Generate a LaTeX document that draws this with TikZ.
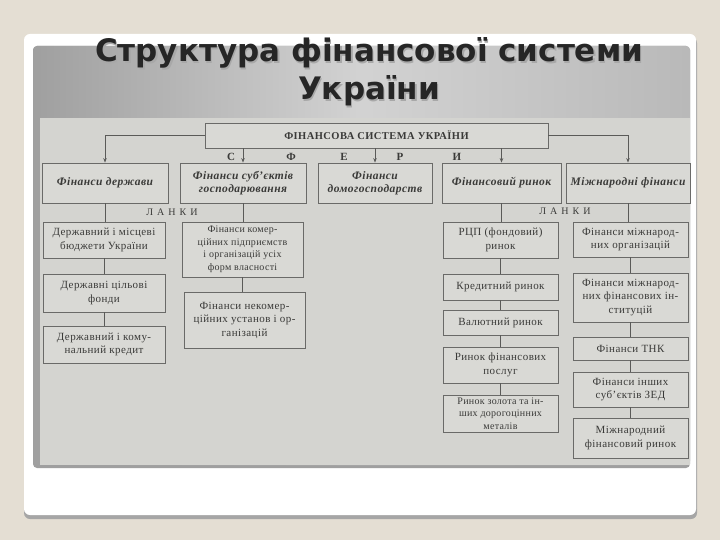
\documentclass[tikz,border=0pt]{standalone}
\usepackage{fontspec}
\setmainfont{Liberation Serif}
\newfontfamily\titlefont{DejaVu Sans}
\usetikzlibrary{arrows.meta}
\definecolor{bggray}{HTML}{E4DED3}
\definecolor{scangray}{HTML}{D4D4D0}
\definecolor{boxfill}{HTML}{D9D9D5}
\definecolor{boxedge}{HTML}{6A6A68}
\definecolor{linegray}{HTML}{5A5A58}
\definecolor{ink}{HTML}{3A3A38}
\definecolor{titleink}{HTML}{262626}

\begin{document}
\begin{tikzpicture}[x=1pt,y=-1pt,>={Stealth[length=4.5pt,width=3.5pt]},
  line/.style={draw=linegray,line width=0.8pt},
  sysbox/.style={draw=boxedge,fill=boxfill,line width=0.8pt,text=ink,
    font=\fontsize{10.5}{12}\selectfont\bfseries\addfontfeature{LetterSpace=4},inner sep=1pt},
  headbox/.style={draw=boxedge,fill=boxfill,line width=0.8pt,text=ink,align=center,
    font=\fontsize{11.5}{13.5}\selectfont\bfseries\itshape\addfontfeature{LetterSpace=4},inner sep=1pt},
  linkbox/.style={draw=boxedge,fill=boxfill,line width=0.8pt,text=ink,align=center,
    font=\fontsize{11}{13.5}\selectfont\addfontfeature{LetterSpace=4},inner sep=1pt},
  densebox/.style={linkbox,font=\fontsize{10}{12.5}\selectfont\addfontfeature{LetterSpace=3}},
  letter/.style={text=ink,font=\fontsize{11}{11}\selectfont\bfseries},
  lanky/.style={text=ink,font=\fontsize{10}{10}\selectfont\addfontfeature{LetterSpace=40}}]
  % slide
  \fill[bggray] (0,0) rectangle (720,540);
  \fill[gray!70,rounded corners=6pt] (24,37) rectangle (697,519);
  \fill[white,rounded corners=6pt] (24,34) rectangle (696,515);
  \fill[gray!75,rounded corners=4pt] (33,46) rectangle (690,468);
  \shade[left color=gray!75,right color=gray!55,middle color=gray!35,rounded corners=4pt]
    (33,46) rectangle (690,465);
  \fill[scangray] (40,118) rectangle (690,465);
  % title
  \node[titleink!40,font=\titlefont\fontsize{31}{38}\selectfont\bfseries,align=center]
    at (370.5,73.5) {Структура фінансової системи\\України};
  \node (title) [titleink,font=\titlefont\fontsize{31}{38}\selectfont\bfseries,align=center]
    at (369,72) {Структура фінансової системи\\України};

  % top level
  \node (sys) [sysbox,minimum width=343pt,minimum height=25pt] at (376.5,135.5)
    {ФІНАНСОВА СИСТЕМА УКРАЇНИ};
  \node (fd) [headbox,minimum width=126pt,minimum height=40pt] at (105,183) {Фінанси держави};
  \node (fs) [headbox,minimum width=126pt,minimum height=40pt] at (243,183)
    {Фінанси суб'єктів\\господарювання};
  \node (fh) [headbox,minimum width=114pt,minimum height=40pt] at (375,183)
    {Фінанси\\домогосподарств};
  \node (fr) [headbox,minimum width=119pt,minimum height=40pt] at (501.5,183) {Фінансовий ринок};
  \node (fm) [headbox,minimum width=124pt,minimum height=40pt] at (628,183) {Міжнародні фінанси};

  \draw[line,->] (sys.west) -| (fd.north);
  \draw[line,->] (sys.east) -| (fm.north);
  \foreach \n in {fs,fh,fr}
    \draw[line,->] (sys.south -| \n.north) -- (\n.north);

  \node (lc) [letter] at (231,157) {С};
  \node (lf) [letter] at (291,157) {Ф};
  \node (le) [letter] at (344,157) {Е};
  \node (lr) [letter] at (400,157) {Р};
  \node (li) [letter] at (457,157) {И};
  \node (lank1) [lanky] at (172,212) {ЛАНКИ};
  \node (lank2) [lanky] at (565,211) {ЛАНКИ};

  % links of state finance
  \node (d1) [linkbox,minimum width=122pt,minimum height=36pt] at (104,240)
    {Державний і місцеві\\бюджети України};
  \node (d2) [linkbox,minimum width=122pt,minimum height=38pt] at (104,293)
    {Державні цільові\\фонди};
  \node (d3) [linkbox,minimum width=122pt,minimum height=37pt] at (104,344.5)
    {Державний і кому-\\нальний кредит};

  % links of business finance
  \node (s1) [densebox,minimum width=121pt,minimum height=55pt] at (242.5,249.5)
    {Фінанси комер-\\ційних підприємств\\і організацій усіх\\форм власності};
  \node (s2) [linkbox,minimum width=121pt,minimum height=56pt] at (244.5,320)
    {Фінанси некомер-\\ційних установ і ор-\\ганізацій};

  % links of financial market
  \node (r1) [linkbox,minimum width=115pt,minimum height=36pt] at (500.5,240)
    {РЦП (фондовий)\\ринок};
  \node (r2) [linkbox,minimum width=115pt,minimum height=26pt] at (500.5,287) {Кредитний ринок};
  \node (r3) [linkbox,minimum width=115pt,minimum height=25pt] at (500.5,322.5) {Валютний ринок};
  \node (r4) [linkbox,minimum width=115pt,minimum height=36pt] at (500.5,365)
    {Ринок фінансових\\послуг};
  \node (r5) [densebox,minimum width=115pt,minimum height=37pt] at (500.5,413.5)
    {Ринок золота та ін-\\ших дорогоцінних\\металів};

  % links of international finance
  \node (m1) [linkbox,minimum width=115pt,minimum height=35pt] at (630.5,239.5)
    {Фінанси міжнарод-\\них організацій};
  \node (m2) [linkbox,minimum width=115pt,minimum height=49pt] at (630.5,297.5)
    {Фінанси міжнарод-\\них фінансових ін-\\ституцій};
  \node (m3) [linkbox,minimum width=115pt,minimum height=23pt] at (630.5,348.5) {Фінанси ТНК};
  \node (m4) [linkbox,minimum width=115pt,minimum height=35pt] at (630.5,389.5)
    {Фінанси інших\\суб'єктів ЗЕД};
  \node (m5) [linkbox,minimum width=115pt,minimum height=40pt] at (630.5,438)
    {Міжнародний\\фінансовий ринок};

  \foreach \a/\b in {fd/d1,d1/d2,d2/d3,fs/s1,s1/s2,fr/r1,r1/r2,r2/r3,r3/r4,r4/r5,
                     fm/m1,m1/m2,m2/m3,m3/m4,m4/m5}
    \draw[line] (\a.south) -- (\a.south |- \b.north);
\end{tikzpicture}
\end{document}
